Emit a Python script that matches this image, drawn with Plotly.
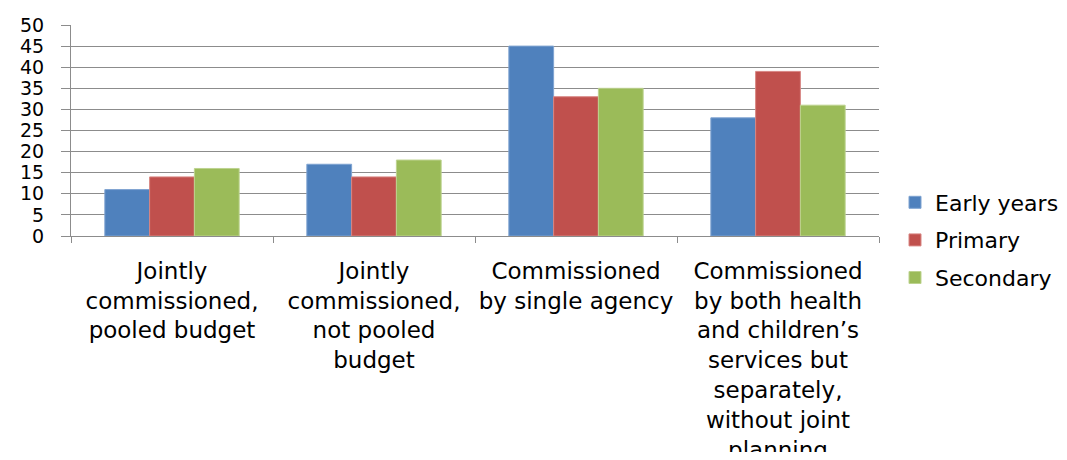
import plotly.graph_objects as go

categories = [
    "Jointly<br>commissioned,<br>pooled budget",
    "Jointly<br>commissioned,<br>not pooled<br>budget",
    "Commissioned<br>by single agency",
    "Commissioned<br>by both health<br>and children’s<br>services but<br>separately,<br>without joint<br>planning",
]
early_years = [11, 17, 45, 28]
primary = [14, 14, 33, 39]
secondary = [16, 18, 35, 31]
y_ticks = [0, 5, 10, 15, 20, 25, 30, 35, 40, 45, 50]

FONT = "DejaVu Sans"
GRID = "#8c8c8c"

fig = go.Figure()
for name, vals, col, edge in [
    ("Early years", early_years, "#4F81BD", "#7fa3d1"),
    ("Primary", primary, "#C0504D", "#d88683"),
    ("Secondary", secondary, "#9BBB59", "#bdd38f"),
]:
    fig.add_trace(go.Bar(
        name=name, x=categories, y=vals, legendgroup=name,
        marker=dict(color=col, line=dict(color=edge, width=1)),
    ))

W, H = 1051, 444
fig.update_layout(
    width=W, height=H,
    margin=dict(l=63, r=180, t=17, b=216, autoexpand=False),
    paper_bgcolor="white", plot_bgcolor="white",
    barmode="group", bargap=0.335, bargroupgap=0,
    font=dict(family=FONT, color="black", size=21),
    legend=dict(
        xref="container", yref="container",
        x=887 / W, y=1 - 232 / H, xanchor="left", yanchor="middle",
        font=dict(family=FONT, size=22, color="black"),
        tracegroupgap=6, traceorder="grouped",
        bgcolor="rgba(0,0,0,0)",
    ),
    showlegend=True,
)
fig.update_yaxes(
    range=[0, 50], tickvals=y_ticks, ticktext=[str(v) for v in y_ticks],
    showgrid=True, gridcolor=GRID, gridwidth=1,
    showline=True, linecolor=GRID, linewidth=1,
    ticks="outside", ticklen=9, tickcolor=GRID,
    ticklabelstandoff=13, automargin=False,
    tickfont=dict(family=FONT, size=19, color="black"),
    zeroline=False, fixedrange=True,
)
fig.update_xaxes(
    showline=True, linecolor=GRID, linewidth=1,
    ticks="outside", ticklen=6, tickcolor=GRID, tickson="boundaries",
    tickfont=dict(family=FONT, size=23, color="black"),
    tickangle=0, ticklabelstandoff=14, automargin=False,
    showgrid=False,
)

fig.write_html("out.html")
